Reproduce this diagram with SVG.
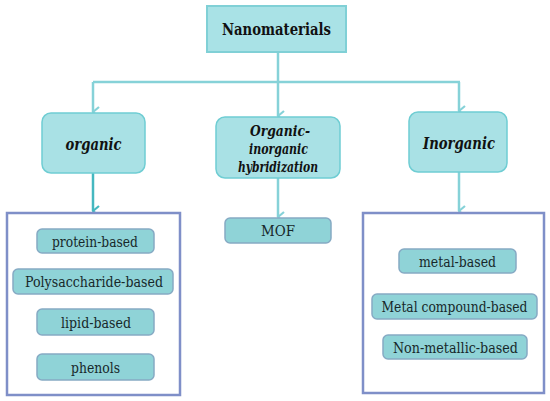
<svg xmlns="http://www.w3.org/2000/svg" width="550" height="401" viewBox="0 0 550 401">
<style>
.top{fill:#a9e2e6;stroke:#80d0d6;stroke-width:2}
.cat{fill:#a9e1e5;stroke:#6fcdd3;stroke-width:1.5}
.item{fill:#8fd3d7;stroke:#86aac4;stroke-width:1.5}
.frame{fill:#ffffff;stroke:#7f8fc8;stroke-width:2.5}
.conn{fill:none;stroke:#86d2d8;stroke-width:2.5}
.dark{fill:none;stroke:#45b8c0;stroke-width:2.5}
text{font-family:'DejaVu Serif',serif;fill:#111;text-anchor:middle}
.tb{font-weight:bold;font-size:17px}
.ti{font-weight:bold;font-style:italic}
.tr{font-size:15px;fill:#17282a}
</style>
<defs>
<marker id="a" viewBox="0 0 12 12" refX="6" refY="11" markerWidth="12" markerHeight="12" markerUnits="userSpaceOnUse" orient="auto-start-reverse">
<polyline points="1,5 6,11 11,5" fill="none" stroke="#86d2d8" stroke-width="2.2"/>
</marker>
<marker id="ad" viewBox="0 0 12 12" refX="6" refY="11" markerWidth="12" markerHeight="12" markerUnits="userSpaceOnUse" orient="auto-start-reverse">
<polyline points="1,5 6,11 11,5" fill="none" stroke="#45b8c0" stroke-width="2.2"/>
</marker>
</defs>
<g id="connectors">
<path class="conn" d="M278,52 V82"/>
<path class="conn" d="M93,82 H460"/>
<path class="conn" d="M93,82 V112" marker-end="url(#a)"/>
<path class="conn" d="M278,82 V116" marker-end="url(#a)"/>
<path class="conn" d="M459,82 V111" marker-end="url(#a)"/>
<path class="dark" d="M93,173 V211" marker-end="url(#ad)"/>
<path class="conn" d="M278,178 V217" marker-end="url(#a)"/>
<path class="conn" d="M459,172 V211" marker-end="url(#a)"/>
</g>
<g id="nanomaterials">
<rect class="top" x="207" y="6" width="139" height="46"/>
<text class="tb" x="276.5" y="35" textLength="109" lengthAdjust="spacingAndGlyphs">Nanomaterials</text>
</g>
<g id="organic">
<rect class="cat" x="42" y="113" width="103" height="60" rx="9"/>
<text class="ti" x="93.5" y="149.5" font-size="17.5" textLength="56" lengthAdjust="spacingAndGlyphs">organic</text>
</g>
<g id="hybrid">
<rect class="cat" x="216" y="117" width="124" height="61" rx="9"/>
<text class="ti" x="280" y="136" font-size="14.5" textLength="60" lengthAdjust="spacingAndGlyphs">Organic-</text>
<text class="ti" x="278.5" y="154" font-size="14.5" textLength="59" lengthAdjust="spacingAndGlyphs">inorganic</text>
<text class="ti" x="278" y="172" font-size="14.5" textLength="80" lengthAdjust="spacingAndGlyphs">hybridization</text>
</g>
<g id="inorganic">
<rect class="cat" x="409" y="112" width="98" height="60" rx="9"/>
<text class="ti" x="459" y="148.5" font-size="17.5" textLength="72" lengthAdjust="spacingAndGlyphs">Inorganic</text>
</g>
<g id="organic-group">
<rect class="frame" x="7" y="213" width="173" height="182"/>
<rect class="item" x="37" y="229" width="117" height="24" rx="5"/>
<text class="tr" x="95" y="246.5" textLength="86" lengthAdjust="spacingAndGlyphs">protein-based</text>
<rect class="item" x="13" y="269" width="160" height="25" rx="5"/>
<text class="tr" x="94" y="287" textLength="138" lengthAdjust="spacingAndGlyphs">Polysaccharide-based</text>
<rect class="item" x="37" y="309" width="117" height="26" rx="5"/>
<text class="tr" x="96" y="327.5" textLength="70" lengthAdjust="spacingAndGlyphs">lipid-based</text>
<rect class="item" x="37" y="354" width="117" height="26" rx="5"/>
<text class="tr" x="95.5" y="372.5" textLength="49" lengthAdjust="spacingAndGlyphs">phenols</text>
</g>
<g id="mof">
<rect class="item" x="225" y="218" width="106" height="25" rx="5"/>
<text class="tr" x="278" y="236" textLength="34" lengthAdjust="spacingAndGlyphs">MOF</text>
</g>
<g id="inorganic-group">
<rect class="frame" x="363" y="213" width="181" height="180"/>
<rect class="item" x="399" y="249" width="117" height="24" rx="5"/>
<text class="tr" x="457.5" y="266.5" textLength="77" lengthAdjust="spacingAndGlyphs">metal-based</text>
<rect class="item" x="372" y="294" width="165" height="25" rx="5"/>
<text class="tr" x="454.5" y="312" textLength="146" lengthAdjust="spacingAndGlyphs">Metal compound-based</text>
<rect class="item" x="383" y="335" width="144" height="24" rx="5"/>
<text class="tr" x="455.5" y="352.5" textLength="125" lengthAdjust="spacingAndGlyphs">Non-metallic-based</text>
</g>
</svg>
